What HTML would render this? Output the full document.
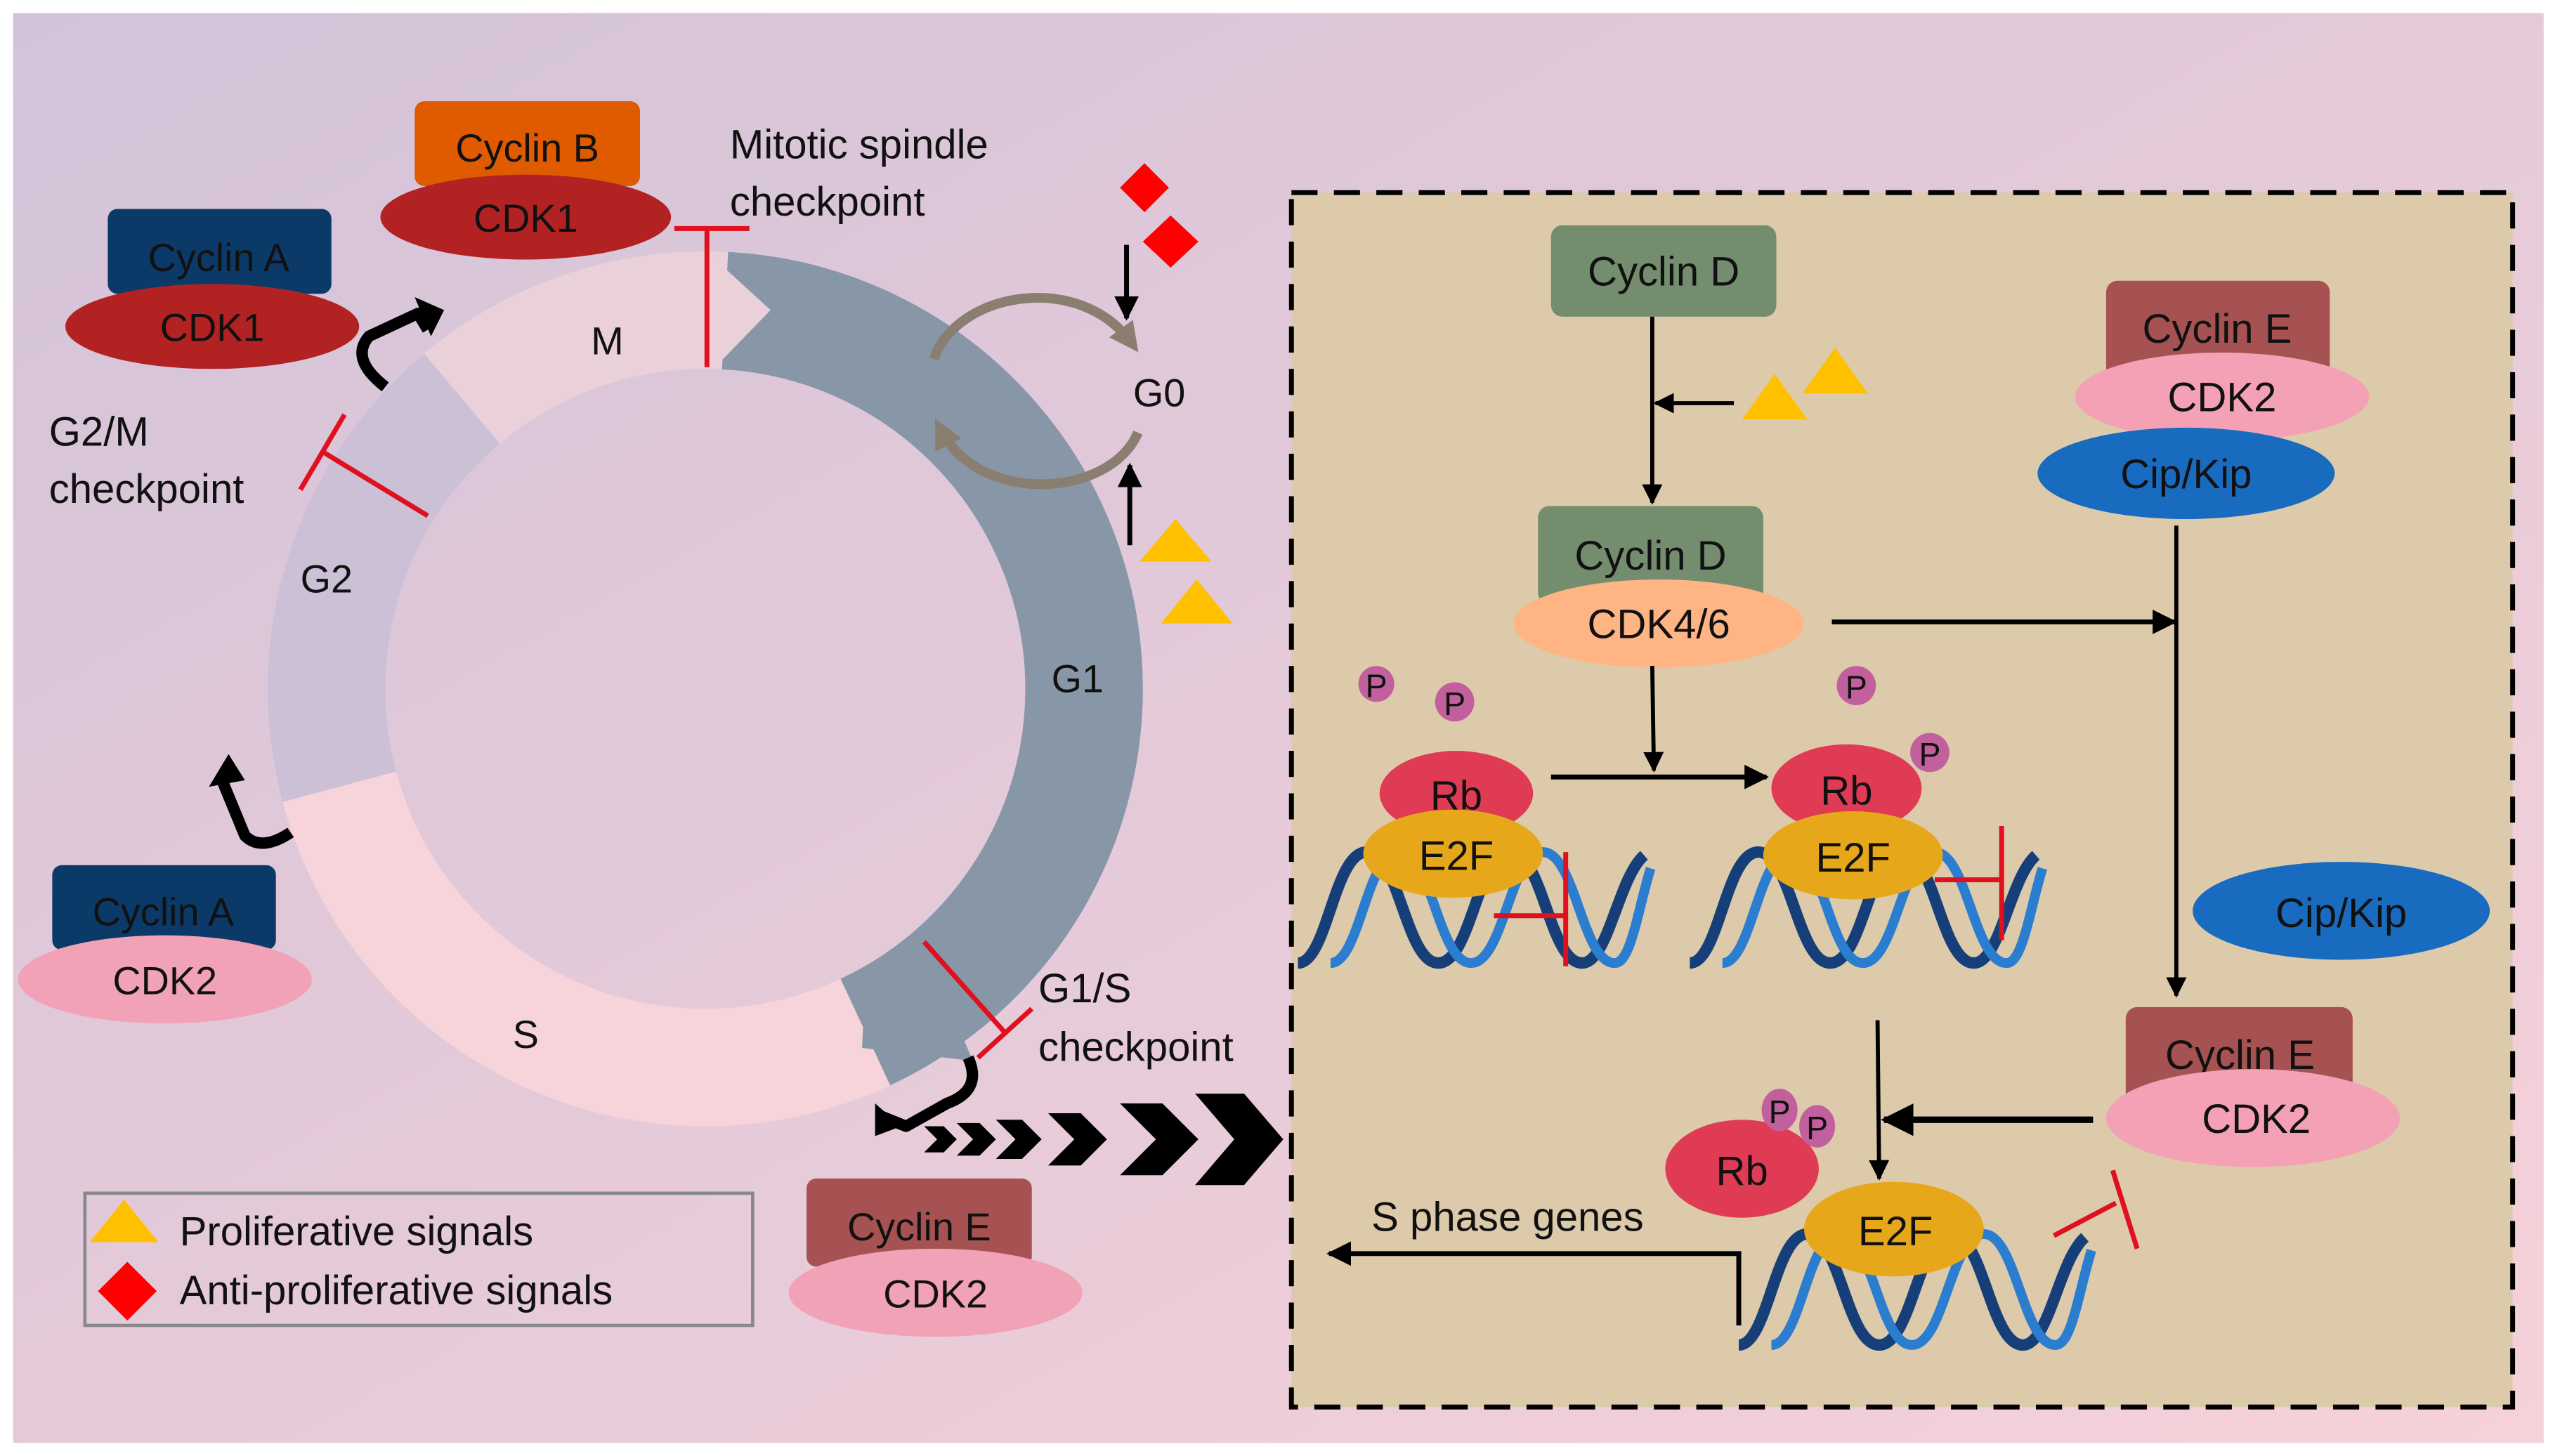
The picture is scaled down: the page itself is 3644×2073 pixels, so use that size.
<!DOCTYPE html>
<html><head><meta charset="utf-8">
<style>
html,body{margin:0;padding:0;background:#fff;}
svg{display:block;}
text{font-family:"Liberation Sans",sans-serif;fill:#111;}
.n{font-family:"Liberation Sans Narrow","Liberation Sans",sans-serif;}
</style></head><body>
<svg width="3644" height="2073" viewBox="0 0 1568 892" xmlns="http://www.w3.org/2000/svg">
<defs>
<linearGradient id="bg" x1="0" y1="0" x2="1" y2="1">
<stop offset="0" stop-color="#d3c3d9"/><stop offset="1" stop-color="#f6d1d9"/>
</linearGradient>
<marker id="ah" viewBox="0 0 10 10" refX="9" refY="5" markerWidth="5" markerHeight="5" orient="auto"><path d="M0 0L10 5L0 10z" fill="#000"/></marker>
<marker id="gh" viewBox="0 0 10 10" refX="6" refY="5" markerWidth="3" markerHeight="3" orient="auto"><path d="M0 0L10 5L0 10z" fill="#8a7e70"/></marker>
<g id="dna">
<path d="M0 72 C18 72 22 4 42 4 C62 4 66 72 86 72 C106 72 110 4 130 4 C150 4 154 72 174 72 C190 72 196 20 212 6" fill="none" stroke="#163f7a" stroke-width="7"/>
<path d="M20 72 C38 72 42 4 62 4 C82 4 86 72 106 72 C126 72 130 4 150 4 C170 4 174 72 194 72 C204 72 208 40 216 14" fill="none" stroke="#2b7dd0" stroke-width="6"/>
</g>
</defs>
<rect x="8" y="8" width="1550" height="876" fill="url(#bg)"/>

<!-- cell cycle ring -->
<g transform="rotate(-90 432 422)" fill="none" stroke-width="72">
<circle cx="432" cy="422" r="232" stroke="#8797a8" stroke-dasharray="615.5 842.2" stroke-dashoffset="-12.1"/>
<circle cx="432" cy="422" r="232" stroke="#f7d3da" stroke-dasharray="404.9 1052.8" stroke-dashoffset="-627.6"/>
<circle cx="432" cy="422" r="232" stroke="#ccc0d6" stroke-dasharray="263.2 1194.5" stroke-dashoffset="-1032.5"/>
<circle cx="432" cy="422" r="232" stroke="#e9d0d9" stroke-dasharray="174.1 1283.6" stroke-dashoffset="-1295.7"/>
</g>
<polygon points="436,157 472,190 436,227" fill="#e9d0d9"/>
<polygon points="528,642 596,650 575,602 530,600" fill="#8797a8"/>

<text x="372" y="217" font-size="24" text-anchor="middle">M</text>
<text x="200" y="363" font-size="24" text-anchor="middle">G2</text>
<text x="660" y="424" font-size="24" text-anchor="middle">G1</text>
<text x="322" y="642" font-size="24" text-anchor="middle">S</text>
<text x="710" y="249" font-size="24" text-anchor="middle">G0</text>

<!-- red T checkpoints -->
<g stroke="#e0101e" stroke-width="3" fill="none">
<line x1="433" y1="140" x2="433" y2="225"/><line x1="413" y1="140" x2="459" y2="140"/>
<line x1="262" y1="316" x2="198" y2="277"/><line x1="184" y1="300" x2="211" y2="254"/>
<line x1="566" y1="577" x2="615" y2="632"/><line x1="599" y1="648" x2="632" y2="618"/>
</g>
<text x="447" y="97" font-size="25">Mitotic spindle</text>
<text x="447" y="132" font-size="25">checkpoint</text>
<text x="30" y="273" font-size="25">G2/M</text>
<text x="30" y="308" font-size="25">checkpoint</text>
<text x="636" y="614" font-size="25">G1/S</text>
<text x="636" y="650" font-size="25">checkpoint</text>

<!-- cyclin complexes left -->
<rect x="254" y="62" width="138" height="52" rx="6" fill="#e05a00"/>
<text x="323" y="99" font-size="24" text-anchor="middle">Cyclin B</text>
<ellipse cx="322" cy="133" rx="89" ry="26" fill="#b22222"/>
<text x="322" y="142" font-size="24" text-anchor="middle">CDK1</text>

<rect x="66" y="128" width="137" height="52" rx="6" fill="#0b3a69"/>
<text x="134" y="166" font-size="24" text-anchor="middle">Cyclin A</text>
<ellipse cx="130" cy="200" rx="90" ry="26" fill="#b22222"/>
<text x="130" y="209" font-size="24" text-anchor="middle">CDK1</text>

<rect x="32" y="530" width="137" height="52" rx="6" fill="#0b3a69"/>
<text x="100" y="567" font-size="24" text-anchor="middle">Cyclin A</text>
<ellipse cx="101" cy="600" rx="90" ry="27" fill="#f2a2b6"/>
<text x="101" y="609" font-size="24" text-anchor="middle">CDK2</text>

<rect x="494" y="722" width="138" height="54" rx="6" fill="#a75252"/>
<text x="563" y="760" font-size="24" text-anchor="middle">Cyclin E</text>
<ellipse cx="573" cy="792" rx="90" ry="27" fill="#f2a2b6"/>
<text x="573" y="801" font-size="24" text-anchor="middle">CDK2</text>

<!-- black bent arrows -->
<g fill="none" stroke="#000" stroke-width="7" stroke-linejoin="round">
<path d="M236 237 Q214 220 226 206 L256 192 L262 202"/>
<path d="M178 510 Q160 522 150 512 L136 478"/>
<path d="M593 648 Q602 668 580 676 L555 690 L540 684"/>
</g>
<polygon points="254,182 272,190 264,206" fill="#000"/>
<polygon points="128,482 140,462 150,478" fill="#000"/>
<polygon points="536,676 552,690 536,696" fill="#000"/>

<!-- chevrons -->
<g fill="#000">
<polygon points="566,690 578,690 586,698 578,706 566,706 574,698"/>
<polygon points="586,688 600,688 610,698 600,708 586,708 596,698"/>
<polygon points="610,686 626,686 638,698 626,710 610,710 622,698"/>
<polygon points="642,682 662,682 678,698 662,714 642,714 658,698"/>
<polygon points="686,676 712,676 734,698 712,720 686,720 708,698"/>
<polygon points="732,670 762,670 786,698 762,726 732,726 756,698"/>
</g>

<!-- G0 loop -->
<g fill="none" stroke="#8a7e70" stroke-width="6">
<path d="M572 220 C585 180 660 165 693 210" marker-end="url(#gh)"/>
<path d="M697 265 C680 305 600 310 576 263" marker-end="url(#gh)"/>
</g>
<polygon points="701,100 716,115 701,130 686,115" fill="#f00"/>
<polygon points="717,132 734,148 717,164 700,148" fill="#f00"/>
<line x1="690" y1="150" x2="690" y2="195" stroke="#000" stroke-width="3" marker-end="url(#ah)"/>
<line x1="692" y1="334" x2="692" y2="285" stroke="#000" stroke-width="3" marker-end="url(#ah)"/>
<polygon points="720,318 742,344 698,344" fill="#ffc000"/>
<polygon points="733,355 755,382 711,382" fill="#ffc000"/>

<!-- legend -->
<rect x="52" y="731" width="409" height="81" fill="none" stroke="#888" stroke-width="2"/>
<polygon points="76,735 97,761 55,761" fill="#ffc000"/>
<polygon points="78,773 96,791 78,809 60,791" fill="#f00"/>
<text x="110" y="763" font-size="25">Proliferative signals</text>
<text x="110" y="799" font-size="25">Anti-proliferative signals</text>

<!-- right panel -->
<rect x="791" y="118" width="748" height="744" fill="#dccaab" stroke="#000" stroke-width="3" stroke-dasharray="16 10"/>

<rect x="950" y="138" width="138" height="56" rx="7" fill="#748d6e"/>
<text x="1019" y="175" font-size="25" text-anchor="middle" class="n">Cyclin D</text>
<line x1="1012" y1="194" x2="1012" y2="308" stroke="#000" stroke-width="2.5" marker-end="url(#ah)"/>
<line x1="1062" y1="247" x2="1014" y2="247" stroke="#000" stroke-width="2.5" marker-end="url(#ah)"/>
<polygon points="1087,229 1107,257 1067,257" fill="#ffc000"/>
<polygon points="1124,213 1144,241 1104,241" fill="#ffc000"/>

<rect x="942" y="310" width="138" height="60" rx="7" fill="#748d6e"/>
<text x="1011" y="349" font-size="25" text-anchor="middle" class="n">Cyclin D</text>
<ellipse cx="1016" cy="382" rx="89" ry="27" fill="#ffb483"/>
<text x="1016" y="391" font-size="25" text-anchor="middle" class="n">CDK4/6</text>
<line x1="1122" y1="381" x2="1332" y2="381" stroke="#000" stroke-width="3" marker-end="url(#ah)"/>
<line x1="1012" y1="408" x2="1013" y2="472" stroke="#000" stroke-width="2.5" marker-end="url(#ah)"/>
<line x1="950" y1="476" x2="1082" y2="476" stroke="#000" stroke-width="3" marker-end="url(#ah)"/>

<rect x="1290" y="172" width="137" height="62" rx="7" fill="#a75252"/>
<text x="1358" y="210" font-size="25" text-anchor="middle" class="n">Cyclin E</text>
<ellipse cx="1361" cy="243" rx="90" ry="27" fill="#f4a1b6"/>
<text x="1361" y="252" font-size="25" text-anchor="middle" class="n">CDK2</text>
<ellipse cx="1339" cy="290" rx="91" ry="28" fill="#196bc0"/>
<text x="1339" y="299" font-size="25" text-anchor="middle" class="n">Cip/Kip</text>
<line x1="1333" y1="322" x2="1333" y2="610" stroke="#000" stroke-width="2.5" marker-end="url(#ah)"/>
<ellipse cx="1434" cy="558" rx="91" ry="30" fill="#196bc0"/>
<text x="1434" y="568" font-size="25" text-anchor="middle" class="n">Cip/Kip</text>

<rect x="1302" y="617" width="139" height="64" rx="7" fill="#a75252"/>
<text x="1372" y="655" font-size="25" text-anchor="middle" class="n">Cyclin E</text>
<ellipse cx="1380" cy="685" rx="90" ry="30" fill="#f4a1b6"/>
<text x="1382" y="694" font-size="25" text-anchor="middle" class="n">CDK2</text>
<line x1="1282" y1="686" x2="1154" y2="686" stroke="#000" stroke-width="4" marker-end="url(#ah)"/>
<line x1="1150" y1="625" x2="1151" y2="722" stroke="#000" stroke-width="2.5" marker-end="url(#ah)"/>

<!-- left Rb group -->
<circle cx="843" cy="419" r="11" fill="#c2609e"/><text x="843" y="427" font-size="20" text-anchor="middle" class="n">P</text>
<circle cx="891" cy="430" r="12" fill="#c2609e"/><text x="891" y="438" font-size="20" text-anchor="middle" class="n">P</text>
<ellipse cx="892" cy="486" rx="47" ry="26" fill="#e03b55"/>
<text x="892" y="496" font-size="25" text-anchor="middle" class="n">Rb</text>
<use href="#dna" x="795" y="518"/>
<ellipse cx="890" cy="523" rx="55" ry="27" fill="#e6a71a"/>
<text x="892" y="533" font-size="25" text-anchor="middle" class="n">E2F</text>
<g stroke="#e0101e" stroke-width="3"><line x1="915" y1="561" x2="958" y2="561"/><line x1="959" y1="522" x2="959" y2="592"/></g>

<!-- right Rb group -->
<circle cx="1137" cy="420" r="12" fill="#c2609e"/><text x="1137" y="428" font-size="20" text-anchor="middle" class="n">P</text>
<ellipse cx="1131" cy="483" rx="46" ry="27" fill="#e03b55"/>
<text x="1131" y="493" font-size="25" text-anchor="middle" class="n">Rb</text>
<circle cx="1182" cy="461" r="12" fill="#c2609e"/><text x="1182" y="469" font-size="20" text-anchor="middle" class="n">P</text>
<use href="#dna" x="1035" y="518"/>
<ellipse cx="1135" cy="524" rx="55" ry="27" fill="#e6a71a"/>
<text x="1135" y="534" font-size="25" text-anchor="middle" class="n">E2F</text>
<g stroke="#e0101e" stroke-width="3"><line x1="1185" y1="539" x2="1226" y2="539"/><line x1="1226" y1="506" x2="1226" y2="576"/></g>

<!-- bottom group -->
<use href="#dna" x="1065" y="752"/>
<ellipse cx="1160" cy="753" rx="55" ry="29" fill="#e6a71a"/>
<text x="1161" y="763" font-size="25" text-anchor="middle" class="n">E2F</text>
<ellipse cx="1067" cy="716" rx="47" ry="30" fill="#e03b55"/>
<text x="1067" y="726" font-size="25" text-anchor="middle" class="n">Rb</text>
<ellipse cx="1090" cy="680" rx="11" ry="13" fill="#c2609e"/><text x="1090" y="688" font-size="20" text-anchor="middle" class="n">P</text>
<ellipse cx="1113" cy="690" rx="11" ry="13" fill="#c2609e"/><text x="1113" y="698" font-size="20" text-anchor="middle" class="n">P</text>
<g stroke="#e0101e" stroke-width="3"><line x1="1258" y1="757" x2="1296" y2="737"/><line x1="1294" y1="717" x2="1309" y2="765"/></g>
<text x="840" y="754" font-size="25" class="n">S phase genes</text>
<polyline points="1065,812 1065,768 814,768" fill="none" stroke="#000" stroke-width="3" marker-end="url(#ah)"/>
</svg>
</body></html>
